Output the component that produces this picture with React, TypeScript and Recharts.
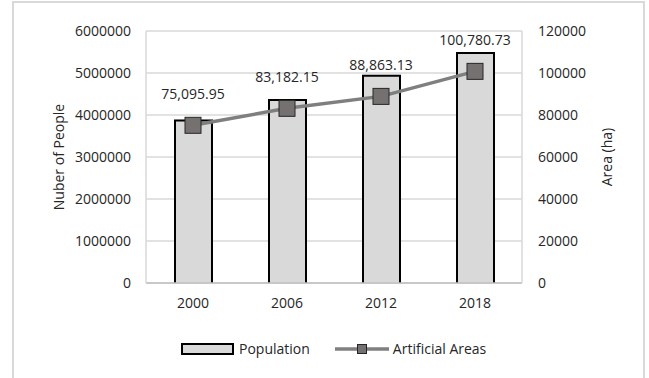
import { ComposedChart, Bar, Line, XAxis, YAxis, CartesianGrid, Legend, LabelList, Label } from 'recharts';

const years = ['2000', '2006', '2012', '2018'];
const population = [3890000, 4380000, 4960000, 5500000];
const artificialAreas = [75095.95, 83182.15, 88863.13, 100780.73];
const leftTicks = [0, 1000000, 2000000, 3000000, 4000000, 5000000, 6000000];
const rightTicks = [0, 20000, 40000, 60000, 80000, 100000, 120000];

const data = years.map((year, i) => ({
  year,
  population: population[i],
  area: artificialAreas[i],
}));

const FONT = '"Open Sans", sans-serif';
const TEXT = '#262626';
const GRID = '#d9d9d9';

const fmtArea = (v: number) =>
  v.toLocaleString('en-US', { minimumFractionDigits: 2, maximumFractionDigits: 2 });

// bar with black outline on three sides, baseline left to the axis
const BarShape = (props: any) => {
  const { x, y, width, height } = props;
  return (
    <g>
      <rect x={x} y={y} width={width} height={height} fill="#d9d9d9" />
      <path
        d={`M${x + 1},${y + height} V${y + 1} H${x + width - 1} V${y + height}`}
        fill="none"
        stroke="#000"
        strokeWidth={2}
      />
    </g>
  );
};

const SquareDot = (props: any) => {
  const { cx, cy, index } = props;
  return (
    <rect
      key={`dot-${index}`}
      x={cx - 8}
      y={cy - 8}
      width={16}
      height={16}
      fill="#767171"
      stroke="#262626"
      strokeWidth={1}
    />
  );
};

const axisTitle = (text: string, shift: number) => (props: any) => {
  const vb = props.viewBox;
  const x = vb.x + shift;
  const y = vb.y + vb.height / 2;
  return (
    <text
      x={x}
      y={y}
      transform={`rotate(-90, ${x}, ${y})`}
      textAnchor="middle"
      dominantBaseline="central"
      fill={TEXT}
      fontSize={14}
      fontFamily={FONT}
    >
      {text}
    </text>
  );
};

const LegendContent = () => (
  <div style={{ display: 'flex', alignItems: 'center', fontFamily: FONT, fontSize: 14, color: TEXT }}>
    <svg width={54} height={12}>
      <rect x={1} y={1} width={51} height={10} fill="#d9d9d9" stroke="#000" strokeWidth={2} />
    </svg>
    <span style={{ marginLeft: 4 }}>Population</span>
    <svg width={54} height={12} style={{ marginLeft: 25 }}>
      <line x1={0} y1={6} x2={54} y2={6} stroke="#7f7f7f" strokeWidth={3.5} />
      <rect x={22.5} y={1.5} width={9} height={9} fill="#767171" stroke="#262626" strokeWidth={1} />
    </svg>
    <span style={{ marginLeft: 4 }}>Artificial Areas</span>
  </div>
);

export default function App() {
  return (
    <div style={{ position: 'absolute', left: 0, top: 0, width: 649, height: 378, background: '#fff', overflow: 'hidden' }}>
      <div
        style={{
          position: 'absolute',
          left: 12,
          top: 1,
          width: 633,
          height: 400,
          border: `2px solid ${GRID}`,
          boxSizing: 'border-box',
        }}
      />
      <ComposedChart
        width={649}
        height={378}
        data={data}
        margin={{ top: 31, right: 47, bottom: 65, left: 66 }}
        style={{ position: 'absolute', left: 0, top: 0, fontFamily: FONT }}
      >
        <CartesianGrid yAxisId="left" vertical={false} stroke={GRID} strokeWidth={1.5} />
        <XAxis
          dataKey="year"
          axisLine={{ stroke: '#bfbfbf', strokeWidth: 1.5 }}
          tickLine={false}
          tickMargin={9}
          tick={{ fill: TEXT, fontSize: 14, fontFamily: FONT }}
        />
        <YAxis
          yAxisId="left"
          width={80}
          domain={[0, 6000000]}
          ticks={leftTicks}
          interval={0}
          axisLine={{ stroke: GRID, strokeWidth: 1.5 }}
          tickLine={false}
          tickMargin={9}
          tick={{ fill: TEXT, fontSize: 14, fontFamily: FONT }}
        >
          <Label content={axisTitle('Nuber of People', -8)} />
        </YAxis>
        <YAxis
          yAxisId="right"
          orientation="right"
          width={80}
          domain={[0, 120000]}
          ticks={rightTicks}
          interval={0}
          axisLine={{ stroke: GRID, strokeWidth: 1.5 }}
          tickLine={false}
          tickMargin={10}
          tick={{ fill: TEXT, fontSize: 14, fontFamily: FONT, textAnchor: 'start' }}
        >
          <Label content={axisTitle('Area (ha)', 84)} />
        </YAxis>
        <Legend
          layout="horizontal"
          verticalAlign="middle"
          align="center"
          content={<LegendContent />}
          wrapperStyle={{ left: 181, top: 339, width: 330 }}
        />
        <Bar
          yAxisId="left"
          dataKey="population"
          name="Population"
          barSize={39}
          shape={<BarShape />}
          isAnimationActive={false}
        />
        <Line
          yAxisId="right"
          dataKey="area"
          name="Artificial Areas"
          stroke="#7f7f7f"
          strokeWidth={3.5}
          dot={SquareDot}
          activeDot={false}
          isAnimationActive={false}
        >
          <LabelList
            dataKey="area"
            position="top"
            offset={26}
            formatter={(v: any) => fmtArea(Number(v))}
            fill={TEXT}
            fontSize={14}
            fontFamily={FONT}
          />
        </Line>
      </ComposedChart>
    </div>
  );
}
